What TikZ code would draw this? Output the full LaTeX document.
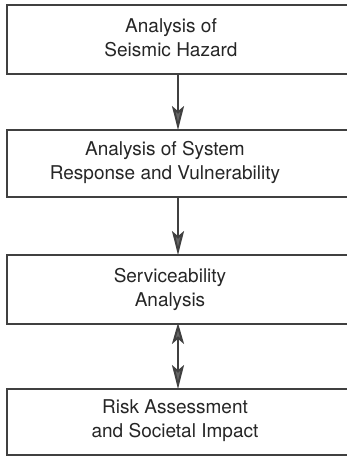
\documentclass[tikz,border=0pt]{standalone}
\usepackage{fontspec}
\setmainfont{TeX Gyre Heros}
\usetikzlibrary{arrows.meta}
\begin{document}
\begin{tikzpicture}[x=1pt,y=-1pt,
  boxstyle/.style={draw=black!75, line width=1.8pt, fill=white, inner sep=0pt, minimum width=345pt},
  lbl/.style={align=center, font=\fontsize{19}{24}\selectfont, text=black!85, inner sep=0pt},
  arr/.style={draw=black!75, line width=2pt, -{Stealth[length=24pt,width=12pt,inset=5pt,fill=black!60]}},
  darr/.style={draw=black!75, line width=2pt, {Stealth[length=21pt,width=12pt,inset=5pt,fill=black!60]}-{Stealth[length=24pt,width=12pt,inset=5pt,fill=black!60]}}]
\useasboundingbox (0,0) rectangle (347,457);
\node[boxstyle, minimum height=69pt] (b1) at (179.5,39.5) {};
\node[boxstyle, minimum height=67pt] (b2) at (179.5,163.5) {};
\node[boxstyle, minimum height=69pt] (b3) at (179.5,289.5) {};
\node[boxstyle, minimum height=66pt] (b4) at (179.5,422) {};
\node[lbl] (t1) at (171,38) {Analysis of\\Seismic Hazard};
\node[lbl] (t2) at (165,162) {Analysis of System\\Response and Vulnerability};
\node[lbl] (t3) at (170,289) {Serviceability\\Analysis};
\node[lbl] (t4) at (175,421) {Risk Assessment\\and Societal Impact};
\draw[arr] ([xshift=-1.5pt]b1.south) -- ([xshift=-1.5pt,yshift=-1pt]b2.north);
\draw[arr] ([xshift=-1.5pt]b2.south) -- ([xshift=-1.5pt,yshift=-1pt]b3.north);
\draw[darr] ([xshift=-1.5pt,yshift=2pt]b3.south) -- ([xshift=-1.5pt,yshift=-1pt]b4.north);
\end{tikzpicture}
\end{document}
